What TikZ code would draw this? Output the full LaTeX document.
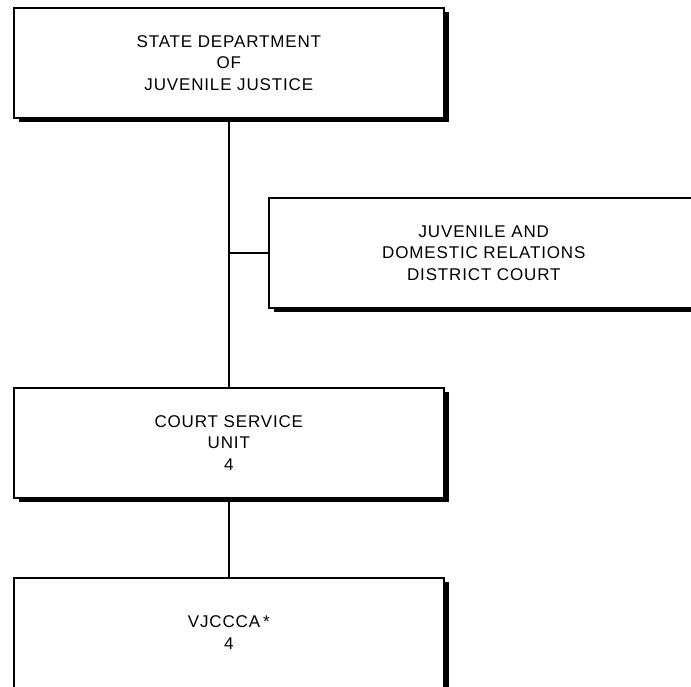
\documentclass[tikz,border=0pt]{standalone}
\usepackage{fontspec}
\setmainfont{Liberation Sans}[LetterSpace=5.0]
\usetikzlibrary{positioning, shadows}

\begin{document}
\begin{tikzpicture}[
    x=1pt, y=-1pt,
    orgbox/.style={draw, line width=1.6pt, fill=white, align=center,
                   minimum width=430pt, minimum height=110pt, anchor=north west,
                   font=\fontsize{17}{21.5}\selectfont,
                   drop shadow={shadow xshift=5pt, shadow yshift=-4pt, fill=black, opacity=1}},
    link/.style={line width=2pt},
]
\clip (0,0) rectangle (691,686);
\useasboundingbox (0,0) rectangle (691,686);

% ---- Department ----
\node[orgbox] (dept) at (13, 7)
    {STATE DEPARTMENT\\OF\\JUVENILE JUSTICE};

% ---- Court (side branch) ----
\node[orgbox] (court) at (268, 197)
    {JUVENILE AND\\DOMESTIC RELATIONS\\DISTRICT COURT};

% ---- Court service unit ----
\node[orgbox] (csu) at (13, 387)
    {COURT SERVICE\\UNIT\\4};

% ---- VJCCCA ----
\node[orgbox] (vjccca) at (13, 577)
    {VJCCCA\,*\\4};

% ---- Connectors ----
\draw[link] (dept.south) -- (csu.north);
\draw[link, line width=1.5pt] (court.west) -- (court.west -| dept.south);
\draw[link] (csu.south) -- (vjccca.north);

\end{tikzpicture}
\end{document}
